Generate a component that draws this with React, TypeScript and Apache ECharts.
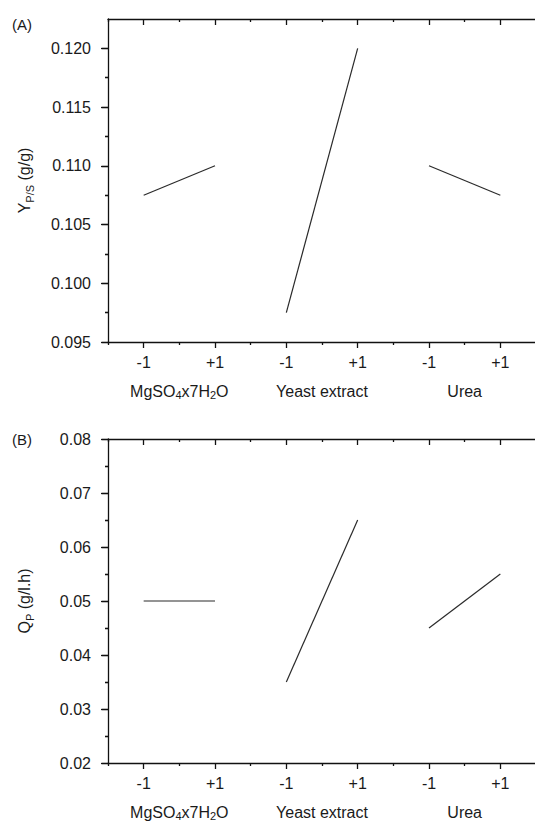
import React, { useEffect, useRef } from "react";
import * as echarts from "echarts";

// ---- data ----
const levelLabels = ["-1", "+1"];
const factorLabels = ["{m|MgSO}{s|4}{m|x7H}{s|2}{m|O}", "{m|Yeast extract}", "{m|Urea}"];
const yieldLow = [0.1075, 0.0975, 0.11];
const yieldHigh = [0.11, 0.12, 0.1075];
const prodLow = [0.05, 0.035, 0.045];
const prodHigh = [0.05, 0.065, 0.055];
const yieldTicks = [0.095, 0.1, 0.105, 0.11, 0.115, 0.12];
const yieldMinorTicks = [0.0975, 0.1025, 0.1075, 0.1125, 0.1175];
const prodTicks = [0.02, 0.03, 0.04, 0.05, 0.06, 0.07, 0.08];
const prodMinorTicks = [0.025, 0.035, 0.045, 0.055, 0.065, 0.075];
const xMajorTicks = [1, 3, 5, 7, 9, 11];
const xMinorTicks = [0, 2, 4, 6, 8, 10, 12];
const factorCenters = [2, 6, 10];

const FONT = "'Liberation Sans', Arial, Helvetica, sans-serif";
const TXT = "#1a1a1a";
const LINE = { color: "#111", width: 1.3 };

function xAxesFor(gi: number) {
  const base = { type: "value", gridIndex: gi, min: 0, max: 12, splitLine: { show: false } };
  return [
    {
      ...base,
      position: "bottom",
      axisLine: { show: true, lineStyle: LINE },
      axisTick: { show: true, customValues: xMajorTicks, length: 6, lineStyle: LINE },
      axisLabel: {
        show: true,
        customValues: xMajorTicks,
        margin: 12,
        fontSize: 16,
        fontFamily: FONT,
        color: TXT,
        formatter: (v: number) => levelLabels[Math.round((v - 1) / 2) % 2],
      },
    },
    {
      ...base,
      position: "bottom",
      axisLine: { show: false },
      axisTick: { show: true, customValues: xMinorTicks, length: 3, lineStyle: LINE },
      axisLabel: { show: false },
    },
    {
      ...base,
      position: "bottom",
      offset: 29,
      axisLine: { show: false },
      axisTick: { show: false },
      axisLabel: {
        show: true,
        customValues: factorCenters,
        margin: 12,
        fontSize: 16,
        fontFamily: FONT,
        color: TXT,
        formatter: (v: number) => factorLabels[Math.round((v - 2) / 4)],
        rich: {
          m: { fontSize: 16, fontFamily: FONT, color: TXT, lineHeight: 16, verticalAlign: "top" },
          s: { fontSize: 11, fontFamily: FONT, color: TXT, lineHeight: 10, padding: [6, 0, 0, 0], verticalAlign: "top" },
        },
      },
    },
    {
      ...base,
      position: "top",
      axisLine: { show: true, lineStyle: LINE },
      axisTick: { show: true, inside: true, customValues: xMajorTicks, length: 6, lineStyle: LINE },
      axisLabel: { show: false },
    },
    {
      ...base,
      position: "top",
      axisLine: { show: false },
      axisTick: { show: true, inside: true, customValues: xMinorTicks, length: 3, lineStyle: LINE },
      axisLabel: { show: false },
    },
  ];
}

function yAxesFor(
  gi: number,
  min: number,
  max: number,
  majors: number[],
  minors: number[],
  digits: number,
  name: string
) {
  const base = { type: "value", gridIndex: gi, min, max, splitLine: { show: false } };
  return [
    {
      ...base,
      position: "left",
      name,
      nameLocation: "middle",
      nameRotate: 90,
      nameGap: 74,
      nameTextStyle: {
        fontSize: 16,
        fontFamily: FONT,
        color: TXT,
        rich: {
          m: { fontSize: 16, fontFamily: FONT, color: TXT, lineHeight: 18, verticalAlign: "top" },
          s: { fontSize: 11, fontFamily: FONT, color: TXT, lineHeight: 12, padding: [8, 0, 0, 0], verticalAlign: "top" },
        },
      },
      axisLine: { show: true, lineStyle: LINE },
      axisTick: { show: true, customValues: majors, length: 7, lineStyle: LINE },
      axisLabel: {
        show: true,
        customValues: majors,
        margin: 17,
        fontSize: 16,
        fontFamily: FONT,
        color: TXT,
        formatter: (v: number) => v.toFixed(digits),
      },
    },
    {
      ...base,
      position: "left",
      axisLine: { show: false },
      axisTick: { show: true, customValues: minors, length: 3, lineStyle: LINE },
      axisLabel: { show: false },
    },
    {
      ...base,
      position: "right",
      axisLine: { show: false },
      axisTick: { show: true, inside: true, customValues: majors, length: 6, lineStyle: LINE },
      axisLabel: { show: false },
    },
    {
      ...base,
      position: "right",
      axisLine: { show: false },
      axisTick: { show: true, inside: true, customValues: minors, length: 3, lineStyle: LINE },
      axisLabel: { show: false },
    },
  ];
}

function seriesFor(gi: number, low: number[], high: number[]) {
  return factorLabels.map((_, i) => ({
    type: "line",
    xAxisIndex: gi * 5,
    yAxisIndex: gi * 4,
    data: [
      [4 * i + 1, low[i]],
      [4 * i + 3, high[i]],
    ],
    symbol: "none",
    silent: true,
    lineStyle: { color: "#2a2a2a", width: 1.2 },
  }));
}

export default function App() {
  const ref = useRef<HTMLDivElement>(null);
  useEffect(() => {
    if (!ref.current) return;
    const chart = echarts.init(ref.current, null, { renderer: "svg" });
    chart.setOption({
      animation: false,
      backgroundColor: "#ffffff",
      grid: [
        { left: 108, top: 19, width: 428, height: 323, outerBoundsMode: "none", containLabel: false },
        { left: 108, top: 439, width: 428, height: 324, outerBoundsMode: "none", containLabel: false },
      ],
      xAxis: [...xAxesFor(0), ...xAxesFor(1)],
      yAxis: [
        ...yAxesFor(0, 0.095, 0.1225, yieldTicks, yieldMinorTicks, 3, "{m|Y}{s|P/S}{m| (g/g)}"),
        ...yAxesFor(1, 0.02, 0.08, prodTicks, prodMinorTicks, 2, "{m|Q}{s|P}{m| (g/l.h)}"),
      ],
      graphic: [
        { type: "text", left: 12, top: 17, style: { text: "(A)", fontSize: 15, fontFamily: FONT, fill: TXT } },
        { type: "text", left: 12, top: 432, style: { text: "(B)", fontSize: 15, fontFamily: FONT, fill: TXT } },
      ],
      series: [...seriesFor(0, yieldLow, yieldHigh), ...seriesFor(1, prodLow, prodHigh)],
    });
    return () => chart.dispose();
  }, []);
  return (
    <div
      ref={ref}
      style={{ position: "absolute", left: 0, top: 0, width: 535, height: 823, background: "#fff" }}
    />
  );
}
